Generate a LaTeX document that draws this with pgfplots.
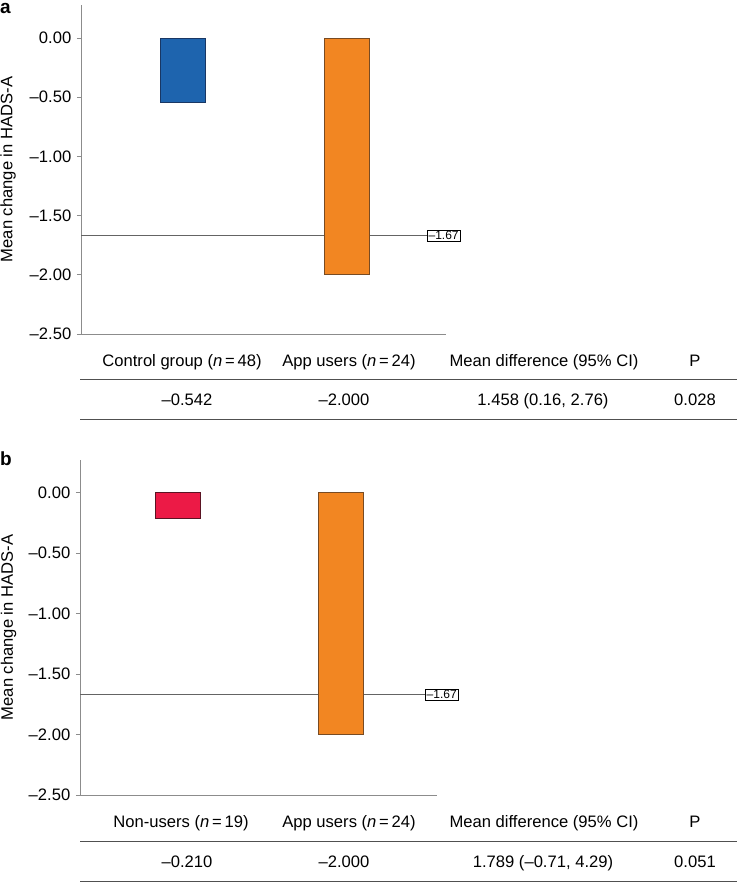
\documentclass[border=0pt]{standalone}
\usepackage{pgfplots}
\pgfplotsset{compat=1.18}
\usepackage{fontspec}
\setmainfont{Liberation Sans}
\definecolor{barblue}{RGB}{30,100,174}
\definecolor{barblueedge}{RGB}{25,55,100}
\definecolor{barorange}{RGB}{242,134,34}
\definecolor{barorangeedge}{RGB}{120,75,35}
\definecolor{barred}{RGB}{236,26,70}
\definecolor{barrededge}{RGB}{90,20,35}
\definecolor{axgray}{RGB}{140,140,140}
\definecolor{refgray}{RGB}{100,100,100}
\definecolor{rulegray}{RGB}{80,80,80}
\tikzset{
  refline/.style={refgray, line width=0.9pt},
  reflabel/.style={draw=black, text=black, line width=0.6pt, fill=white, inner sep=1.3pt, anchor=west,
    font=\fontsize{12}{13}\selectfont},
}
\pgfplotsset{
  panel/.style={
    scale only axis,
    axis x line=bottom, axis y line=left,
    axis line style={-, axgray, line width=0.8pt},
    xtick=\empty,
    ytick={-2.5,-2,-1.5,-1,-0.5,0},
    yticklabels={–2.50,–2.00,–1.50,–1.00,–0.50,0.00},
    tick align=outside,
    major tick length=4pt,
    tick style={axgray, line width=0.8pt},
    ymin=-2.5,
    clip=false,
    ylabel={Mean change in HADS-A},
    ylabel style={at={(axis description cs:-0.2,0.5)}, anchor=center},
    label style={font=\fontsize{16.6}{19}\selectfont},
    ticklabel style={font=\fontsize{16.6}{19}\selectfont},
  },
}
\begin{document}
\begin{tikzpicture}
\path[use as bounding box] (0pt,0pt) rectangle (737pt,-882pt);
\fontsize{16.6}{19}\selectfont
% ---------------- panel a ----------------
\node[anchor=base west, inner sep=0pt] at (0pt,-14pt) {\fontsize{19}{21}\selectfont\bfseries a};
\begin{axis}[panel, at={(81pt,-334pt)}, anchor=south west,
  width=365pt, height=329pt,
  xmin=0.381, xmax=2.607, ymax=0.279]
  \addplot[refline] coordinates {(0.381,-1.67) (2.491,-1.67)}
    node[reflabel, pos=1] {–1.67};
  \addplot[ybar, bar width=45pt, bar shift=0pt, fill=barblue, draw=barblueedge, line width=0.8pt]
    coordinates {(1,-0.542)};
  \addplot[ybar, bar width=45pt, bar shift=0pt, fill=barorange, draw=barorangeedge, line width=0.8pt]
    coordinates {(2,-2.000)};
\end{axis}
\node[anchor=base] at (182pt,-366pt) {Control group (\textit{n}\,=\,48)};
\node[anchor=base] at (349pt,-366pt) {App users (\textit{n}\,=\,24)};
\node[anchor=base] at (544pt,-366pt) {Mean difference (95\% CI)};
\node[anchor=base] at (695pt,-366pt) {P};
\draw[rulegray, line width=1pt] (80pt,-379pt) -- (737pt,-379pt);
\node[anchor=base] at (187pt,-405pt) {–0.542};
\node[anchor=base] at (344pt,-405pt) {–2.000};
\node[anchor=base] at (543pt,-405pt) {1.458 (0.16, 2.76)};
\node[anchor=base] at (695pt,-405pt) {0.028};
\draw[rulegray, line width=1pt] (80pt,-419pt) -- (737pt,-419pt);
% ---------------- panel b ----------------
\node[anchor=base west, inner sep=0pt] at (0pt,-465pt) {\fontsize{19}{21}\selectfont\bfseries b};
\begin{axis}[panel, at={(80pt,-795pt)}, anchor=south west,
  width=357pt, height=335pt,
  xmin=0.401, xmax=2.588, ymax=0.271]
  \addplot[refline] coordinates {(0.401,-1.67) (2.515,-1.67)}
    node[reflabel, pos=1] {–1.67};
  \addplot[ybar, bar width=45pt, bar shift=0pt, fill=barred, draw=barrededge, line width=0.8pt]
    coordinates {(1,-0.210)};
  \addplot[ybar, bar width=45pt, bar shift=0pt, fill=barorange, draw=barorangeedge, line width=0.8pt]
    coordinates {(2,-2.000)};
\end{axis}
\node[anchor=base] at (181pt,-827pt) {Non-users (\textit{n}\,=\,19)};
\node[anchor=base] at (349pt,-827pt) {App users (\textit{n}\,=\,24)};
\node[anchor=base] at (544pt,-827pt) {Mean difference (95\% CI)};
\node[anchor=base] at (695pt,-827pt) {P};
\draw[rulegray, line width=1pt] (80pt,-841pt) -- (737pt,-841pt);
\node[anchor=base] at (187pt,-867pt) {–0.210};
\node[anchor=base] at (344pt,-867pt) {–2.000};
\node[anchor=base] at (543pt,-867pt) {1.789 (–0.71, 4.29)};
\node[anchor=base] at (695pt,-867pt) {0.051};
\draw[rulegray, line width=1pt] (80pt,-881pt) -- (737pt,-881pt);
\end{tikzpicture}
\end{document}
